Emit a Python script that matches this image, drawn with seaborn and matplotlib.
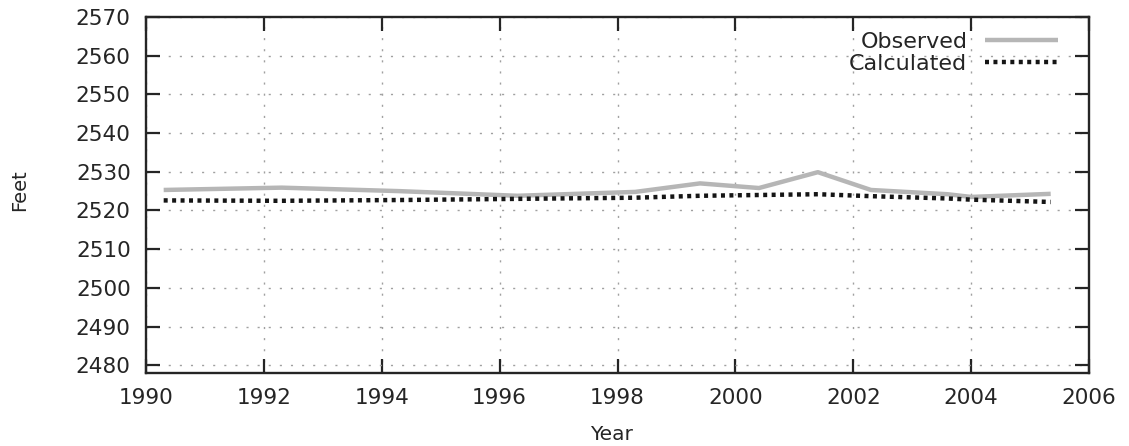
import matplotlib
matplotlib.use("Agg")
import matplotlib.pyplot as plt
import seaborn as sns
import pandas as pd
from matplotlib.lines import Line2D

years = [1990.3, 1992.3, 1994.3, 1996.3, 1998.3, 1999.4, 2000.4, 2001.4, 2002.3, 2003.6, 2004.0, 2005.35]
observed = [2525.3, 2525.9, 2525.0, 2523.8, 2524.8, 2527.0, 2525.8, 2529.9, 2525.3, 2524.2, 2523.5, 2524.3]
calculated = [2522.6, 2522.5, 2522.7, 2523.0, 2523.3, 2523.8, 2524.0, 2524.2, 2523.7, 2523.1, 2522.8, 2522.2]
series_names = ["Observed", "Calculated"]
x_ticks = list(range(1990, 2007, 2))
y_ticks = list(range(2480, 2571, 10))

df = pd.DataFrame({
    "Year": years * 2,
    "Feet": observed + calculated,
    "Series": [series_names[0]] * len(years) + [series_names[1]] * len(years),
})

sns.set_style("ticks")
plt.rcParams["font.family"] = ["DejaVu Sans"]

OBS_C = "#b6b6b6"
CALC_C = "#151515"
TXT_C = "#252525"

fig = plt.figure(figsize=(11.29, 4.46), dpi=100)
ax = fig.add_axes([146 / 1129, 73 / 446, 943 / 1129, 356 / 446])

sns.lineplot(data=df, x="Year", y="Feet", hue="Series", style="Series",
             palette={"Observed": OBS_C, "Calculated": CALC_C},
             dashes={"Observed": "", "Calculated": (0.9, 1.0)},
             linewidth=3.2, ax=ax, legend=False)
for ln in ax.lines:
    ln.set_dash_capstyle("butt")
    ln.set_solid_capstyle("butt")

ax.set_xlim(1990, 2006)
ax.set_ylim(2478, 2570)
ax.set_xticks(x_ticks)
ax.set_yticks(y_ticks)
ax.tick_params(direction="in", length=10, width=1.6, top=True, right=True,
               labelsize=15.5, colors=TXT_C, pad=11)
for s in ax.spines.values():
    s.set_visible(True)
    s.set_linewidth(1.7)
    s.set_color(TXT_C)
ax.grid(True, linestyle=(0, (1.5, 6.5)), color="#a0a0a0", linewidth=1.0)
ax.set_xlabel("Year", fontsize=14.5, color=TXT_C)
ax.set_ylabel("Feet", fontsize=14, color=TXT_C)
ax.xaxis.set_label_coords(0.494, -0.146)
ax.yaxis.set_label_coords(-0.124, 0.514)

handles = [Line2D([], [], color=OBS_C, lw=3.2, solid_capstyle="butt"),
           Line2D([], [], color=CALC_C, lw=3.2, linestyle=(0, (0.9, 1.0)), dash_capstyle="butt")]
leg = ax.legend(handles, series_names, loc="upper right", frameon=False, markerfirst=False,
                fontsize=16, handlelength=3.3, handletextpad=0.8, labelspacing=0.1,
                borderpad=0.4, borderaxespad=0.0, bbox_to_anchor=(0.977, 0.984))
for t in leg.get_texts():
    t.set_color(TXT_C)

fig.savefig("out.png", dpi=100, facecolor="white")
